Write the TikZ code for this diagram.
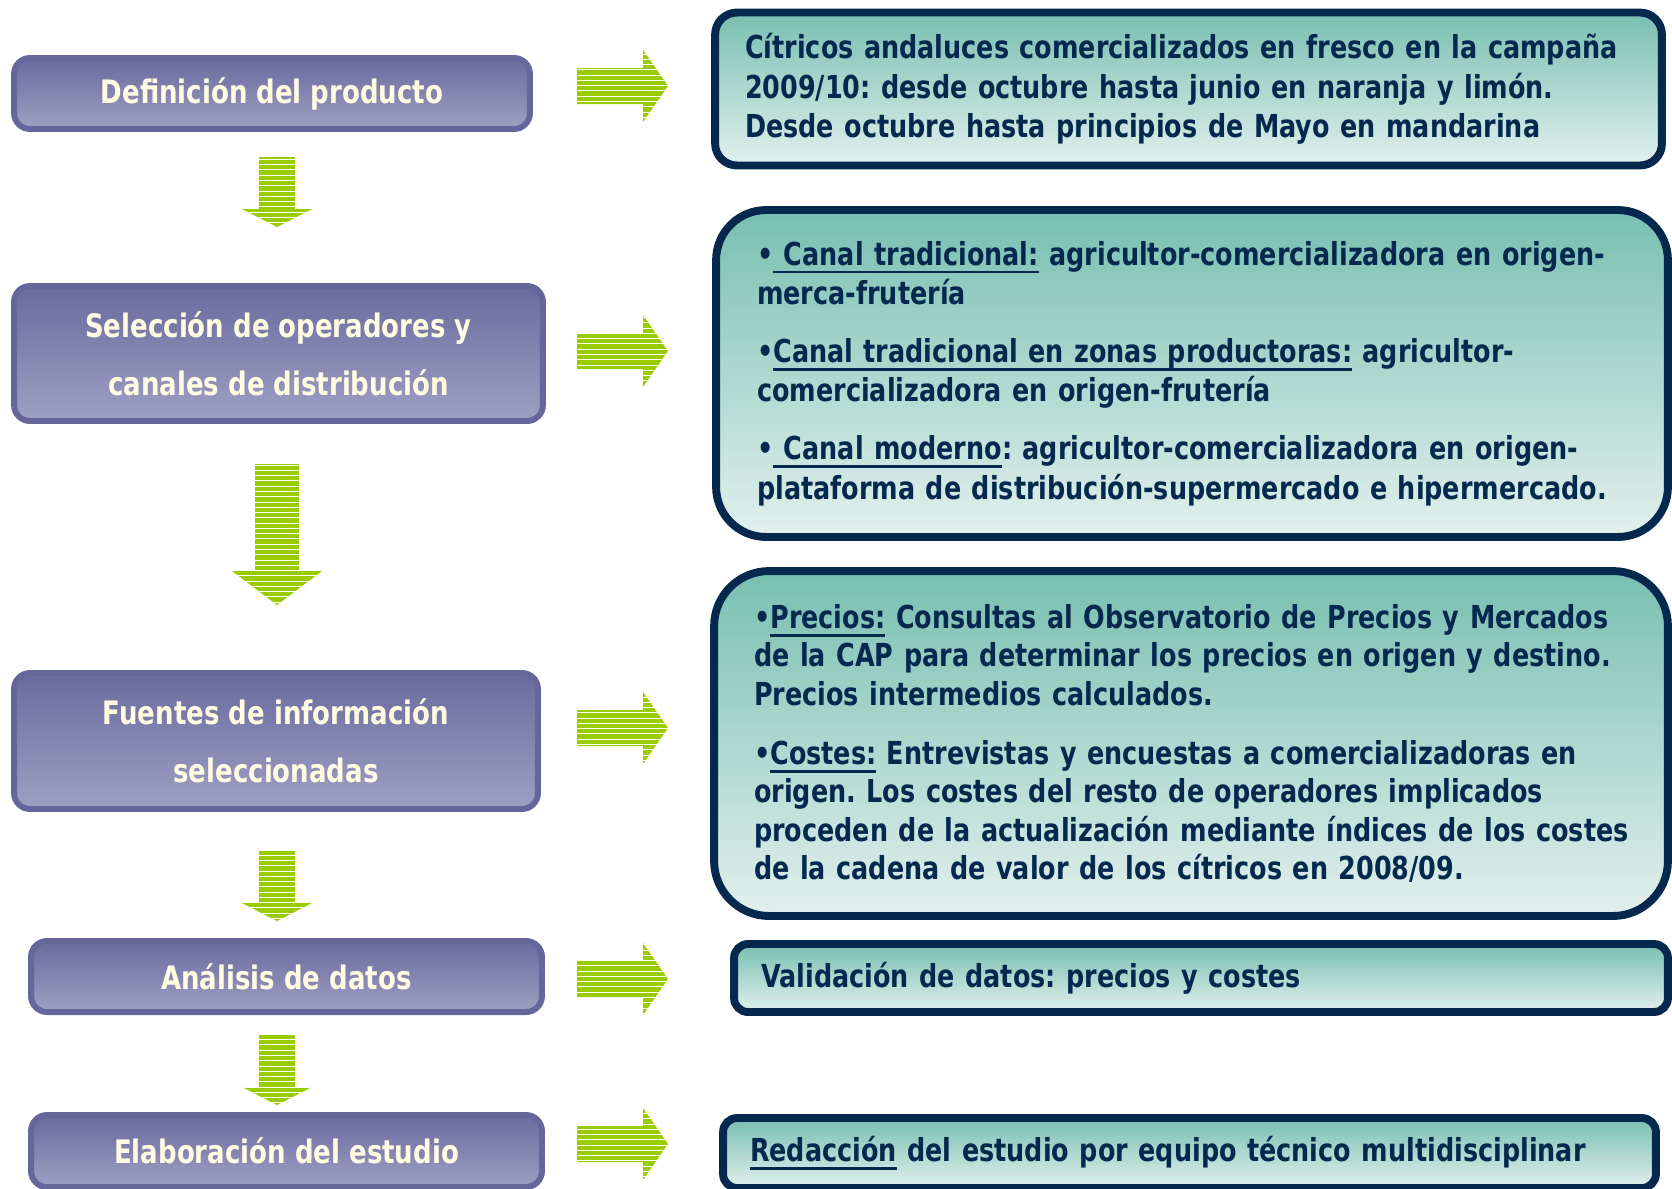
\documentclass[tikz,border=0pt]{standalone}
\usepackage{fontspec}
\setmainfont{DejaVu Sans}[FakeStretch=0.805]
\usepackage{tikz}
\usetikzlibrary{patterns}
\definecolor{navy}{RGB}{4,40,78}
\definecolor{tealtop}{RGB}{120,191,177}
\definecolor{tealbot}{RGB}{226,240,237}
\definecolor{lilac}{RGB}{102,102,154}
\definecolor{lilactop}{RGB}{106,106,158}
\definecolor{lilacbot}{RGB}{160,159,196}
\definecolor{cream}{RGB}{255,252,226}
\definecolor{lime}{RGB}{153,204,0}
\newcommand{\uln}[1]{\leavevmode\setbox0\hbox{#1}\rlap{\rule[-4.6pt]{\wd0}{1.6pt}}\box0\relax}
\frenchspacing

\begin{document}
\begin{tikzpicture}[x=0.02cm, y=-0.02cm,
    stage/.style={draw=lilac, line width=3.4pt, rounded corners=0.32cm, top color=lilactop, bottom color=lilacbot,
                  text=cream, font=\bfseries\fontsize{18.4}{33}\selectfont, align=center, inner sep=0pt},
    info/.style={draw=navy, line width=4.5pt, top color=tealtop, bottom color=tealbot,
                 text=navy, font=\bfseries\fontsize{18}{22.4}\selectfont, align=left, inner ysep=0pt},
    limearrow/.style={fill=lime, postaction={pattern=horizontal lines, pattern color=white}}
]
\useasboundingbox (0,0) rectangle (1672,1188);
\clip (0,0) rectangle (1672,1188);

% steps on the left
\node[stage, minimum width=10.32cm, minimum height=1.42cm] (def) at (272,93.5) {Definición del producto};
\node[stage, minimum width=10.58cm, minimum height=2.70cm] (sel) at (278.5,353.5) {Selección de operadores y\\canales de distribución};
\node[stage, minimum width=10.48cm, minimum height=2.72cm] (fue) at (276,741) {Fuentes de información\\seleccionadas};
\node[stage, minimum width=10.22cm, minimum height=1.42cm] (ana) at (286.5,976.5) {Análisis de datos};
\node[stage, minimum width=10.22cm, minimum height=1.44cm] (ela) at (286.5,1151) {Elaboración del estudio};

% details on the right
\node[info, minimum width=18.94cm, minimum height=3.06cm, rounded corners=0.44cm, inner xsep=0.6cm, text width=17.74cm] (cit) at (1188.5,89)
  {\mbox{Cítricos andaluces comercializados en fresco en la campaña}\\
   2009/10: desde octubre hasta junio en naranja y limón.\\
   Desde octubre hasta principios de Mayo en mandarina};
\node[info, minimum width=19.04cm, minimum height=6.54cm, rounded corners=1cm, inner xsep=0.82cm, text width=17.4cm] (can) at (1192,373.5)
  {\mbox{•\uln{ Canal tradicional:} agricultor-comercializadora en origen-}\\
   merca-frutería\\[10.5pt]
   •\uln{Canal tradicional en zonas productoras:} agricultor-\\
   comercializadora en origen-frutería\\[10.5pt]
   \mbox{•\uln{ Canal moderno}: agricultor-comercializadora en origen-}\\
   \mbox{plataforma de distribución-supermercado e hipermercado.}};
\node[info, font=\bfseries\fontsize{18}{21.8}\selectfont, minimum width=19.08cm, minimum height=6.9cm, rounded corners=1.1cm, inner xsep=0.8cm, text width=17.48cm] (pre) at (1191,743.5)
  {\mbox{•\uln{Precios:} Consultas al Observatorio de Precios y Mercados}\\
   \mbox{de la CAP para determinar los precios en origen y destino.}\\
   Precios intermedios calculados.\\[12pt]
   •\uln{Costes:} Entrevistas y encuestas a comercializadoras en\\
   origen. Los costes del resto de operadores implicados\\
   \mbox{proceden de la actualización mediante índices de los costes}\\
   de la cadena de valor de los cítricos en 2008/09.};
\node[info, minimum width=18.68cm, minimum height=1.36cm, rounded corners=0.28cm, inner xsep=0.54cm, text width=17.6cm] (val) at (1201,978)
  {Validación de datos: precios y costes};
\node[info, minimum width=18.66cm, minimum height=1.4cm, rounded corners=0.28cm, inner xsep=0.54cm, text width=17.58cm] (red) at (1189.5,1153)
  {\uln{Redacción} del estudio por equipo técnico multidisciplinar};

% striped arrows
\foreach \y in {86,351,728,979,1144}
  \path[limearrow] (577,\y-18) -- (643,\y-18) -- (643,\y-36) -- (668,\y) -- (643,\y+36) -- (643,\y+18) -- (577,\y+18) -- cycle;
\foreach \t/\b/\s/\h/\l in {157/227/18/35/18, 464/605/22/45/34, 851/921/18/35/18, 1034/1105/18/35/18}
  \path[limearrow] (277-\s,\t) -- (277+\s,\t) -- (277+\s,\b-\l) -- (277+\h,\b-\l) -- (277,\b) -- (277-\h,\b-\l) -- (277-\s,\b-\l) -- cycle;
\end{tikzpicture}
\end{document}
